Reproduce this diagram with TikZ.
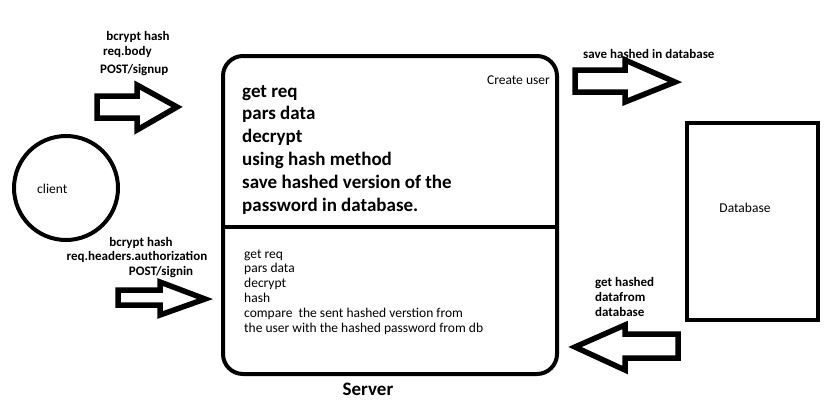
\documentclass[tikz,border=0pt]{standalone}
\usepackage{fontspec}
\setmainfont{Carlito}
\begin{document}
\begin{tikzpicture}[x=1pt,y=-1pt,
  thick box/.style={line width=4pt},
  blockarrow/.style={line width=5.5pt, line join=miter},
  lbl/.style={inner sep=0pt, font=\fontsize{13}{15}\selectfont\bfseries},
  big/.style={inner sep=0pt, font=\fontsize{19}{22}\selectfont\bfseries},
  small/.style={inner sep=0pt, font=\fontsize{13.5}{15}\selectfont},
]
\useasboundingbox (0,0) rectangle (831,415);
% client
\draw[thick box] (66,188) ellipse [x radius=52, y radius=52];
\node[small, anchor=base west] (client) at (37,193) {client};
% server
\draw[thick box, rounded corners=20pt] (223,56) rectangle (557,374);
\draw[thick box] (223,227) -- (557,227);
\node[small, anchor=base east] (create) at (550,84) {Create user};
\foreach \t [count=\i] in {get req, pars data, decrypt, using hash method, save hashed version of the, password in database.}
  \node[big, anchor=base west] (top\i) at (242,{97+22.8*(\i-1)}) {\t};
\foreach \t [count=\i] in {get req, pars data, decrypt, hash, compare\ \ the sent hashed verstion from, the user with the hashed password from db}
  \node[small, anchor=base west] (bot\i) at (244,{258+14.8*(\i-1)}) {\t};
\node[big, anchor=base] (server) at (368,395) {Server};
% database
\draw[thick box] (687,123) rectangle (818,320);
\node[small, anchor=base] (db) at (745,212) {Database};
% arrows
\draw[blockarrow] (97,96) -- (137,96) -- (137,85) -- (177,107) -- (137,130) -- (137,118) -- (97,118) -- cycle;
\draw[blockarrow] (118,290) -- (160,290) -- (160,282) -- (205,299) -- (160,315) -- (160,305) -- (118,305) -- cycle;
\draw[blockarrow] (575,70) -- (625,70) -- (625,60) -- (675,82) -- (625,102) -- (625,92) -- (575,92) -- cycle;
\draw[blockarrow] (678,334) -- (625,334) -- (625,325) -- (575,347) -- (625,370) -- (625,358) -- (678,358) -- cycle;
% labels
\node[lbl, anchor=base] (l1) at (138,40) {bcrypt hash};
\node[lbl, anchor=base west] (l2) at (103,56) {req.body};
\node[lbl, anchor=base west] (l3) at (100,73) {POST/signup};
\node[lbl, anchor=base] (l4) at (141,246) {bcrypt hash};
\node[lbl, anchor=base] (l5) at (137,260) {req.headers.authorization};
\node[lbl, anchor=base] (l6) at (161,275) {POST/signin};
\node[lbl, anchor=base west] (l7) at (583,58) {save hashed in database};
\node[lbl, anchor=base west] (l8) at (595,286) {get hashed};
\node[lbl, anchor=base west] (l9) at (595,301) {datafrom};
\node[lbl, anchor=base west] (l10) at (595,316) {database};
\end{tikzpicture}
\end{document}
